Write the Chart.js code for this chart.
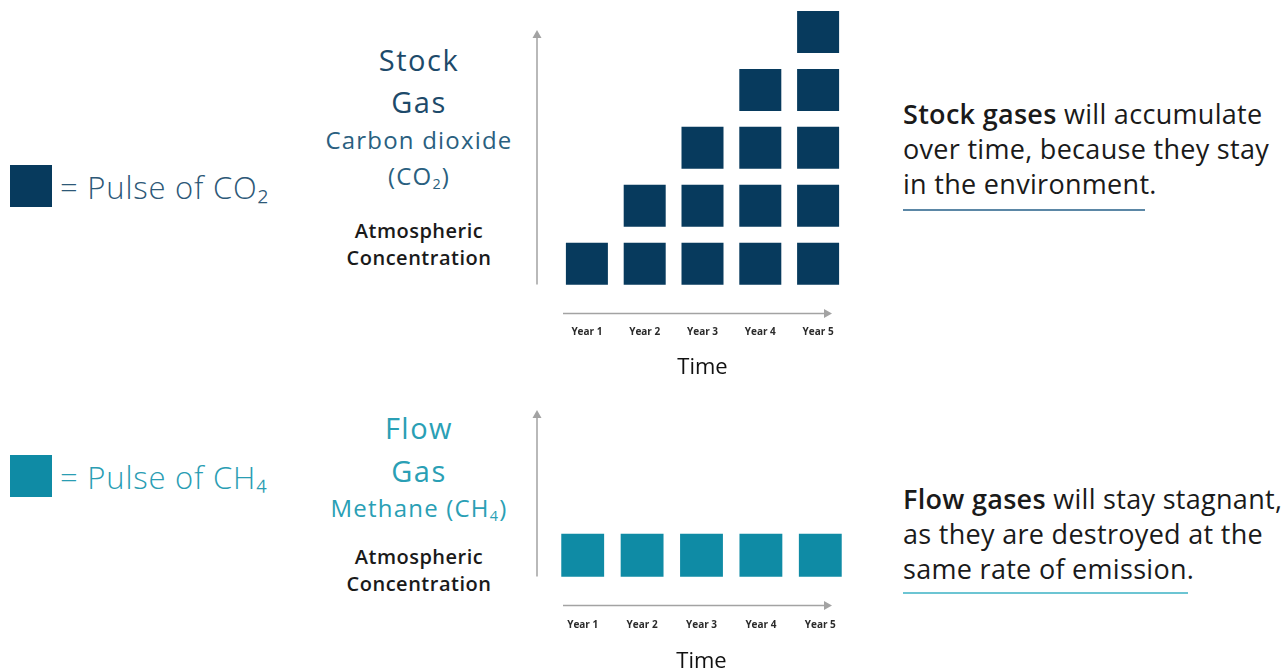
<!DOCTYPE html>
<html>
<head>
  <title>Stock vs Flow Gases</title>
  <script src="https://cdn.jsdelivr.net/npm/chart.js"></script>
  <style>
    body {
      margin: 0;
      width: 1288px;
      height: 671px;
      overflow: hidden;
      background: #fff;
      font-family: "Open Sans", sans-serif;
      position: relative;
    }
    .wrap { position: absolute; left: 0; width: 1288px; }
    .mid { position: absolute; left: 419px; transform: translate(-50%, -50%); white-space: nowrap; text-align: center; }
    .big { font-size: 29px; letter-spacing: 1.5px; }
    .sub { font-size: 24px; letter-spacing: 1.2px; }
    .swatch { position: absolute; left: 10px; width: 42px; height: 42px; }
    .legend { position: absolute; left: 60px; font-size: 31px; letter-spacing: 0.8px; font-weight: 300; white-space: nowrap; transform: translateY(-50%); }
    .note { position: absolute; left: 903px; font-size: 27px; letter-spacing: 0.3px; color: #1a1a1a; line-height: 35px; white-space: nowrap; }
    .note b { font-weight: 600; }
    .rule { position: absolute; left: 903px; height: 2px; }
    .atm { font-size: 20px; letter-spacing: 0.5px; font-weight: 600; color: #1a1a1a; }
    sub { font-size: 0.6em; vertical-align: -0.25em; }
  </style>
</head>
<body>
  <!-- legend on the left -->
  <div class="swatch" style="top:165px; background:#073a5d;"></div>
  <div class="legend" style="top:187px; color:#2d5877;">= Pulse of CO₂</div>
  <div class="swatch" style="top:455px; background:#0f8ba5;"></div>
  <div class="legend" style="top:477px; color:#2a9db3;">= Pulse of CH₄</div>

  <!-- middle titles -->
  <div class="mid big" style="top:59px; color:#1d4a6a;">Stock</div>
  <div class="mid big" style="top:101px; color:#1d4a6a;">Gas</div>
  <div class="mid sub" style="top:139px; color:#2a5f80;">Carbon dioxide</div>
  <div class="mid sub" style="top:176px; color:#2a5f80;">(CO<sub>2</sub>)</div>
  <div class="mid atm" style="top:230px;">Atmospheric</div>
  <div class="mid atm" style="top:257px;">Concentration</div>

  <div class="mid big" style="top:427px; color:#2a9fb5;">Flow</div>
  <div class="mid big" style="top:470px; color:#2a9fb5;">Gas</div>
  <div class="mid sub" style="top:508px; color:#2a9fb5;">Methane (CH<sub>4</sub>)</div>
  <div class="mid atm" style="top:556px;">Atmospheric</div>
  <div class="mid atm" style="top:583px;">Concentration</div>

  <!-- notes on the right -->
  <div class="note" style="top:96px;"><b>Stock gases</b> will accumulate<br>over time, because they stay<br>in the environment.</div>
  <div class="rule" style="top:209px; width:242px; background:#5b87a6;"></div>
  <div class="note" style="top:481px;"><b>Flow gases</b> will stay stagnant,<br>as they are destroyed at the<br>same rate of emission.</div>
  <div class="rule" style="top:592px; width:285px; background:#6cc5d3;"></div>

  <div class="wrap" style="top:0; height:384px;"><canvas id="stockChart"></canvas></div>
  <div class="wrap" style="top:380px; height:300px;"><canvas id="flowChart"></canvas></div>

  <script>
    const years = ['Year 1', 'Year 2', 'Year 3', 'Year 4', 'Year 5'];
    const co2Pulses = [1, 2, 3, 4, 5];
    const ch4Pulses = [1, 1, 1, 1, 1];

    const navy = '#073a5d';
    const teal = '#0f8ba5';

    // one dataset per layer of squares
    function layers(counts, color, radius) {
      let top = Math.max(...counts);
      let sets = [];
      for (let k = 1; k <= top; k++) {
        sets.push({
          data: counts.map(c => c >= k ? k : null),
          showLine: false,
          pointStyle: 'rect',
          pointRadius: radius,
          pointBackgroundColor: color,
          pointBorderWidth: 0,
          clip: false
        });
      }
      return sets;
    }

    // grey axis arrows
    const arrows = {
      id: 'arrows',
      afterDraw(chart, args, opts) {
        let { ctx, chartArea } = chart;
        let { left, right, top, bottom } = chartArea;
        let vx = left - opts.vGap;
        let vTop = top + opts.vTop;
        let vBot = bottom - 8;
        let hy = bottom + 21;
        let hl = left + opts.hLeft;
        let hr = right - opts.hRight;
        ctx.save();
        ctx.strokeStyle = '#a3a3a3';
        ctx.fillStyle = '#a3a3a3';
        ctx.lineWidth = 1.5;
        ctx.beginPath();
        ctx.moveTo(vx, vBot); ctx.lineTo(vx, vTop + 6);
        ctx.moveTo(hl, hy); ctx.lineTo(hr - 6, hy);
        ctx.stroke();
        ctx.beginPath();
        ctx.moveTo(vx, vTop); ctx.lineTo(vx - 4.5, vTop + 8); ctx.lineTo(vx + 4.5, vTop + 8); ctx.closePath();
        ctx.moveTo(hr, hy); ctx.lineTo(hr - 8, hy - 4.5); ctx.lineTo(hr - 8, hy + 4.5); ctx.closePath();
        ctx.fill();
        ctx.restore();
      }
    };

    function makeChart(id, counts, color, radius, cfg) {
      return new Chart(document.getElementById(id), {
        type: 'line',
        data: { labels: years, datasets: layers(counts, color, radius) },
        plugins: [arrows],
        options: {
          responsive: true,
          maintainAspectRatio: false,
          animation: false,
          events: [],
          layout: { padding: cfg.padding, autoPadding: false },
          plugins: {
            legend: { display: false },
            tooltip: { enabled: false },
            arrows: cfg.arrows
          },
          scales: {
            x: {
              offset: true,
              grid: { display: false, drawTicks: false },
              border: { display: false },
              ticks: {
                padding: cfg.tickPad,
                color: '#2b2b2b',
                font: { family: 'Open Sans', size: 10, weight: 'bold' }
              },
              title: {
                display: true,
                text: 'Time',
                color: '#111',
                padding: cfg.titlePad,
                font: { family: 'Open Sans', size: 22 }
              }
            },
            y: {
              display: false,
              min: 0.5,
              max: cfg.yMax
            }
          }
        }
      });
    }

    // tick padding is counted twice in the axis height, so the title top padding is negative
    makeChart('stockChart', co2Pulses, navy, 29.7, {
      padding: { left: 558, right: 441, top: 3, bottom: 0 },
      tickPad: 34,
      titlePad: { top: -18, bottom: 3 },
      yMax: 5.5,
      arrows: { vGap: 21, vTop: 27, hLeft: 5, hRight: 15 }
    });

    makeChart('flowChart', ch4Pulses, teal, 30.3, {
      padding: { left: 553, right: 438, top: 58, bottom: 0 },
      tickPad: 35,
      titlePad: { top: -18, bottom: 5 },
      yMax: 3.0,
      arrows: { vGap: 16, vTop: -28, hLeft: 10, hRight: 18 }
    });
  </script>
</body>
</html>
